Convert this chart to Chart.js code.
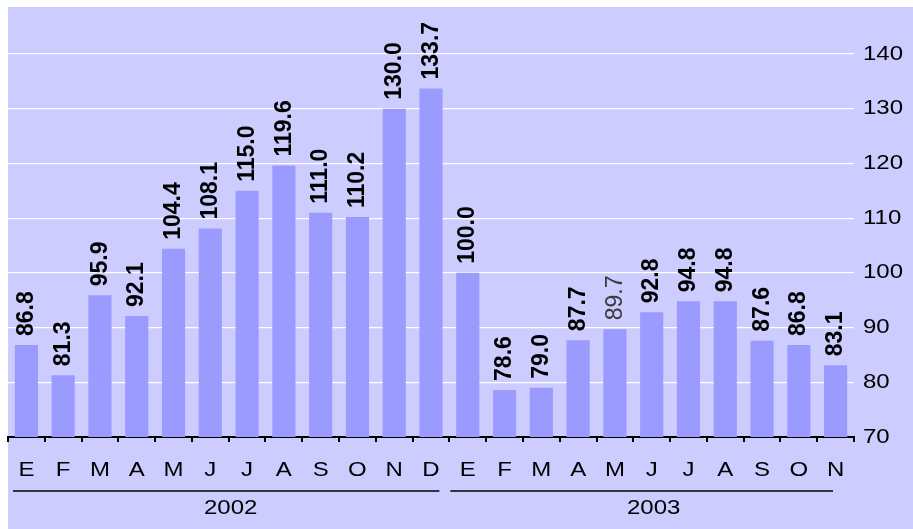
<!DOCTYPE html>
<html>
<head>
<meta charset="utf-8">
<script src="https://cdn.jsdelivr.net/npm/chart.js@4"></script>
<style>
  html, body { margin: 0; padding: 0; background: #ffffff; }
  #wrap { width: 913px; height: 529px; }
</style>
</head>
<body>
<div id="wrap"><canvas id="chart"></canvas></div>
<script>
const months = ['E', 'F', 'M', 'A', 'M', 'J', 'J', 'A', 'S', 'O', 'N', 'D',
                'E', 'F', 'M', 'A', 'M', 'J', 'J', 'A', 'S', 'O', 'N'];
const values = [86.8, 81.3, 95.9, 92.1, 104.4, 108.1, 115.0, 119.6, 111.0, 110.2, 130.0, 133.7,
                100.0, 78.6, 79.0, 87.7, 89.7, 92.8, 94.8, 94.8, 87.6, 86.8, 83.1];
const yTicks = [70, 80, 90, 100, 110, 120, 130, 140];
const years = ['2002', '2003'];
const yearFirst = [0, 12];
const yearLast = [11, 22];
const greyLabel = [16];

const FONT = '"Liberation Sans", Arial, sans-serif';
const STRETCH = 1.2;

// text in the reference is a bit wider than Arial, so stretch it horizontally
const wideText = (ctx, text, x, y, align) => {
    ctx.save();
    ctx.translate(x, y);
    ctx.scale(STRETCH, 1);
    ctx.textAlign = align;
    ctx.textBaseline = 'middle';
    ctx.fillText(text, 0, 0);
    ctx.restore();
};

const decor = {
    id: 'decor',
    beforeDraw(chart) {
        const ctx = chart.ctx;
        ctx.save();
        ctx.fillStyle = '#ccccff';
        ctx.fillRect(8, 7, chart.width - 8, chart.height - 7);
        ctx.restore();
    },
    afterDraw(chart) {
        const ctx = chart.ctx;
        const x = chart.scales.x;
        const y = chart.scales.y;
        const area = chart.chartArea;
        const w = (area.right - area.left) / months.length;
        ctx.save();
        ctx.fillStyle = '#000000';
        ctx.font = '20px ' + FONT;

        yTicks.forEach((t) => {
            wideText(ctx, String(t), area.right + 9, y.getPixelForValue(t), 'left');
        });

        months.forEach((m, i) => {
            wideText(ctx, m, x.getPixelForValue(i), area.bottom + 33, 'center');
        });

        years.forEach((yr, k) => {
            const c0 = x.getPixelForValue(yearFirst[k]);
            const c1 = x.getPixelForValue(yearLast[k]);
            const x0 = k === 0 ? area.left + 5 : c0 - w / 2 + 1;
            const x1 = k === 0 ? c1 + w / 2 - 10 : c1 + w / 2 - 21;
            ctx.strokeStyle = '#000000';
            ctx.lineWidth = 1.6;
            ctx.beginPath();
            ctx.moveTo(x0, area.bottom + 54);
            ctx.lineTo(x1, area.bottom + 54);
            ctx.stroke();
            wideText(ctx, yr, (c0 + c1) / 2 + 2, area.bottom + 71, 'center');
        });

        // value labels, rotated, above each bar
        const meta = chart.getDatasetMeta(0);
        meta.data.forEach((bar, i) => {
            const grey = greyLabel.includes(i);
            ctx.save();
            ctx.translate(bar.x, bar.y - 9);
            ctx.rotate(-Math.PI / 2);
            ctx.scale(1, 1.05);
            ctx.font = (grey ? '' : 'bold ') + '23px ' + FONT;
            ctx.fillStyle = grey ? '#3a3a3a' : '#000000';
            ctx.textAlign = 'left';
            ctx.textBaseline = 'middle';
            ctx.fillText(values[i].toFixed(1), 0, 0);
            ctx.restore();
        });
        ctx.restore();
    }
};

new Chart(document.getElementById('chart'), {
    type: 'bar',
    data: {
        labels: months,
        datasets: [{
            data: values,
            backgroundColor: '#9b9bff',
            borderWidth: 0,
            barPercentage: 0.63,
            categoryPercentage: 1.0,
        }],
    },
    options: {
        responsive: true,
        maintainAspectRatio: false,
        animation: false,
        devicePixelRatio: 1,
        layout: { padding: { left: 8, top: 54, right: 0, bottom: 0 } },
        plugins: {
            legend: { display: false },
            tooltip: { enabled: false },
        },
        scales: {
            x: {
                afterFit: (s) => { s.height = 92; },
                grid: {
                    offset: true,
                    drawOnChartArea: false,
                    drawTicks: true,
                    tickLength: 5,
                    color: '#000000',
                    lineWidth: 2,
                },
                border: { display: true, color: '#000000', width: 2 },
                ticks: { display: false },
            },
            y: {
                position: 'right',
                min: 70,
                max: 140,
                afterFit: (s) => { s.width = 59; },
                grid: {
                    color: '#ffffff',
                    lineWidth: 1.2,
                    drawTicks: false,
                },
                border: { display: false },
                ticks: { display: false, stepSize: 10 },
            },
        },
    },
    plugins: [decor],
});
</script>
</body>
</html>
